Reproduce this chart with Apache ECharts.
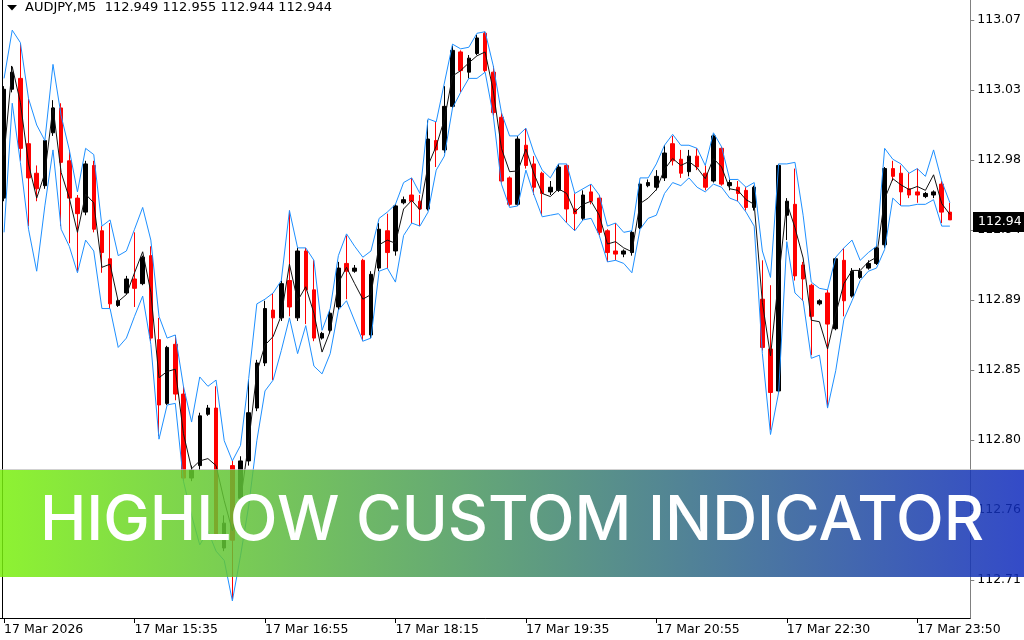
<!DOCTYPE html>
<html>
<head>
<meta charset="utf-8">
<script src="https://cdn.jsdelivr.net/npm/echarts@6/dist/echarts.min.js"></script>
<style>
html,body{margin:0;padding:0;background:#fff;}
#chart{width:1024px;height:640px;}
</style>
</head>
<body>
<div id="chart"></div>
<script>
// ---- data (AUDJPY M5) ----
const symbolTitle = "AUDJPY,M5  112.949 112.955 112.944 112.944";
const currentPrice = 112.944;
const currentPriceLabel = "112.94";

const xTickIdx = [0, 16, 32, 48, 64, 80, 96, 112];
const xTickLabels = ["17 Mar 2026", "17 Mar 15:35", "17 Mar 16:55", "17 Mar 18:15",
  "17 Mar 19:35", "17 Mar 20:55", "17 Mar 22:30", "17 Mar 23:50"];

const yTickValues = [112.7125, 112.7575, 112.8025, 112.8475, 112.8925, 112.9375, 112.9825, 113.0275, 113.0725];
const yTickLabels = ["112.71", "112.76", "112.80", "112.85", "112.89", "112.94", "112.98", "113.03", "113.07"];

const opens = [
112.958,113.028,113.035,112.993,112.974,112.966,113.000,113.016,112.982,112.958,
112.949,112.979,112.937,112.919,112.889,112.897,112.906,112.903,112.921,112.867,
112.826,112.864,112.832,112.778,112.786,112.819,112.823,112.733,112.786,112.765,
112.789,112.823,112.852,112.886,112.881,112.905,112.881,112.924,112.899,112.868,
112.873,112.888,112.916,112.911,112.918,112.870,112.913,112.937,112.924,112.955,
112.960,112.956,112.951,112.995,112.989,113.017,113.052,113.039,113.051,113.064,
113.039,113.010,112.971,112.954,112.992,112.980,112.974,112.962,112.963,112.979,
112.951,112.945,112.962,112.958,112.937,112.924,112.922,112.923,112.939,112.966,
112.965,112.971,112.993,112.983,112.975,112.985,112.974,112.969,112.990,112.966,
112.965,112.963,112.952,112.893,112.861,112.834,112.947,112.954,112.915,112.902,
112.890,112.897,112.874,112.918,112.895,112.907,112.913,112.916,112.928,112.977,
112.974,112.964,112.962,112.959,112.960,112.967,112.949];
const closes = [
113.028,113.039,112.990,112.971,112.964,112.995,113.016,112.981,112.958,112.948,
112.980,112.938,112.923,112.890,112.892,112.906,112.900,112.920,112.868,112.825,
112.862,112.832,112.778,112.783,112.818,112.823,112.742,112.749,112.738,112.789,
112.820,112.852,112.887,112.881,112.903,112.888,112.924,112.899,112.868,112.871,
112.884,112.913,112.911,112.913,112.870,112.909,112.938,112.923,112.953,112.957,
112.956,112.951,112.996,112.989,113.017,113.053,113.040,113.048,113.061,113.040,
113.013,112.969,112.954,112.996,112.979,112.965,112.961,112.965,112.978,112.951,
112.948,112.960,112.956,112.936,112.923,112.922,112.924,112.936,112.967,112.968,
112.972,112.987,112.982,112.974,112.985,112.978,112.965,112.998,112.967,112.968,
112.961,112.952,112.965,112.862,112.833,112.979,112.956,112.908,112.906,112.882,
112.892,112.877,112.919,112.892,112.911,112.911,112.916,112.926,112.977,112.972,
112.962,112.960,112.960,112.961,112.962,112.949,112.944];
const lows = [
112.956,113.026,112.982,112.940,112.956,112.964,112.998,112.940,112.929,112.911,
112.947,112.936,112.910,112.887,112.888,112.896,112.888,112.902,112.866,112.805,
112.825,112.828,112.776,112.776,112.783,112.818,112.738,112.731,112.700,112.757,
112.786,112.821,112.850,112.841,112.879,112.882,112.879,112.877,112.866,112.867,
112.871,112.886,112.893,112.910,112.866,112.868,112.911,112.913,112.921,112.954,
112.942,112.940,112.950,112.978,112.987,113.016,113.026,113.035,113.050,113.039,
113.011,112.968,112.953,112.953,112.977,112.960,112.947,112.960,112.962,112.942,
112.937,112.944,112.954,112.934,112.917,112.918,112.920,112.921,112.938,112.965,
112.963,112.969,112.979,112.971,112.972,112.976,112.963,112.968,112.966,112.963,
112.956,112.950,112.950,112.860,112.809,112.833,112.931,112.905,112.892,112.857,
112.889,112.823,112.873,112.882,112.894,112.906,112.912,112.915,112.926,112.969,
112.953,112.958,112.955,112.958,112.958,112.942,112.944];
const highs = [
113.030,113.043,113.057,113.022,112.979,112.995,113.021,113.019,112.989,112.960,
112.982,112.982,112.940,112.942,112.893,112.908,112.936,112.921,112.927,112.881,
112.863,112.870,112.837,112.786,112.820,112.825,112.837,112.754,112.789,112.792,
112.841,112.854,112.892,112.897,112.905,112.950,112.926,112.926,112.918,112.872,
112.886,112.917,112.934,112.915,112.919,112.911,112.942,112.948,112.954,112.959,
112.971,112.960,113.008,113.007,113.030,113.056,113.053,113.050,113.063,113.065,
113.043,113.013,112.972,112.998,113.003,112.985,112.975,112.969,112.980,112.980,
112.961,112.963,112.967,112.960,112.938,112.942,112.925,112.937,112.969,112.970,
112.976,112.992,112.998,112.989,112.989,112.990,112.979,112.999,112.991,112.970,
112.969,112.965,112.966,112.918,112.902,112.980,112.958,112.977,112.917,112.903,
112.893,112.899,112.920,112.926,112.913,112.913,112.918,112.927,112.978,112.982,
112.979,112.974,112.977,112.962,112.963,112.969,112.955];

const upperBand = [
113.035,113.066,113.058,113.022,113.005,112.995,113.044,113.011,112.989,112.962,
112.990,112.986,112.940,112.944,112.921,112.924,112.938,112.952,112.931,112.882,
112.868,112.870,112.837,112.814,112.843,112.837,112.841,112.802,112.789,112.799,
112.842,112.890,112.893,112.897,112.905,112.950,112.926,112.926,112.918,112.873,
112.887,112.921,112.935,112.927,112.920,112.924,112.945,112.949,112.954,112.968,
112.971,112.961,113.009,113.007,113.032,113.057,113.054,113.055,113.064,113.065,
113.043,113.013,112.998,112.998,113.003,112.987,112.976,112.971,112.980,112.980,
112.961,112.964,112.967,112.960,112.940,112.942,112.936,112.937,112.971,112.971,
112.980,112.992,112.999,112.992,112.992,112.990,112.979,113.000,112.991,112.970,
112.970,112.965,112.968,112.924,112.907,112.980,112.980,112.981,112.947,112.904,
112.900,112.899,112.920,112.926,112.931,112.918,112.923,112.927,112.990,112.983,
112.980,112.974,112.977,112.972,112.989,112.969,112.955];
const lowerBand = [
112.936,113.019,112.981,112.938,112.911,112.953,112.989,112.938,112.927,112.910,
112.931,112.924,112.887,112.887,112.862,112.868,112.882,112.895,112.864,112.803,
112.825,112.826,112.776,112.754,112.735,112.744,112.731,112.725,112.699,112.728,
112.760,112.802,112.834,112.841,112.860,112.881,112.858,112.876,112.850,112.845,
112.858,112.886,112.892,112.879,112.866,112.868,112.911,112.913,112.904,112.934,
112.942,112.940,112.949,112.976,112.985,113.016,113.026,113.035,113.035,113.039,
113.011,112.967,112.952,112.953,112.976,112.960,112.946,112.947,112.948,112.942,
112.937,112.944,112.945,112.934,112.917,112.918,112.916,112.910,112.938,112.945,
112.947,112.961,112.968,112.966,112.971,112.965,112.962,112.967,112.965,112.958,
112.956,112.949,112.940,112.858,112.806,112.833,112.930,112.897,112.892,112.855,
112.857,112.823,112.847,112.880,112.892,112.905,112.911,112.913,112.925,112.958,
112.953,112.953,112.954,112.954,112.957,112.940,112.940];
const midLine = [
112.9855,113.0425,113.0195,112.980,112.958,112.974,113.0165,112.9745,112.958,112.936,
112.9605,112.955,112.9135,112.9155,112.8915,112.896,112.910,112.9235,112.8975,112.8425,
112.8465,112.848,112.8065,112.784,112.789,112.7905,112.786,112.7635,112.744,112.7635,
112.801,112.846,112.8635,112.869,112.8825,112.9155,112.892,112.901,112.884,112.859,
112.8725,112.9035,112.9135,112.903,112.893,112.896,112.928,112.931,112.929,112.951,
112.9565,112.9505,112.979,112.9915,113.0085,113.0365,113.040,113.045,113.0495,113.052,
113.027,112.990,112.975,112.9755,112.9895,112.9735,112.961,112.959,112.964,112.961,
112.949,112.954,112.956,112.947,112.9285,112.930,112.926,112.9235,112.9545,112.958,
112.9635,112.9765,112.9835,112.979,112.9815,112.9775,112.9705,112.9835,112.978,112.964,
112.963,112.957,112.954,112.891,112.8565,112.9065,112.955,112.939,112.9195,112.8795,
112.8785,112.861,112.8835,112.903,112.9115,112.9115,112.917,112.920,112.9575,112.9705,
112.9665,112.9635,112.9655,112.963,112.973,112.9545,112.9475];

const bannerText = "HIGHLOW CUSTOM INDICATOR";

// ---- chart ----
const slotCount = 119; // 117 bars + chart shift
const categories = Array.from({length: slotCount}, (_, i) => String(i));
const candleData = opens.map((o, i) => [o, closes[i], lows[i], highs[i]]);
const isTick = (i) => xTickIdx.indexOf(i) >= 0;
const FONT = 'DejaVu Sans';

const chart = echarts.init(document.getElementById('chart'), null, {renderer: 'canvas'});
chart.setOption({
  animation: false,
  backgroundColor: '#ffffff',
  grid: {left: -1, right: 52, top: 0, bottom: 22, containLabel: false},
  xAxis: {
    type: 'category', data: categories, boundaryGap: true,
    axisLine: {show: true, lineStyle: {color: '#000', width: 1}},
    axisTick: {show: true, alignWithLabel: true, interval: isTick, length: 5, lineStyle: {color: '#000'}},
    axisLabel: {
      interval: isTick, align: 'left', margin: 5, color: '#000',
      fontFamily: FONT, fontSize: 12.5,
      formatter: (v, i) => xTickLabels[xTickIdx.indexOf(i)] || ''
    },
    splitLine: {show: false}
  },
  yAxis: {
    type: 'value', position: 'right', min: 112.688, max: 113.0854,
    axisLine: {show: true, lineStyle: {color: '#808080', width: 1}},
    axisTick: {show: true, length: 4, customValues: yTickValues, lineStyle: {color: '#808080'}},
    axisLabel: {
      customValues: yTickValues, margin: 7, color: '#000', fontFamily: FONT, fontSize: 12.5,
      formatter: (v) => {
        const k = yTickValues.findIndex(t => Math.abs(t - v) < 1e-6);
        return k >= 0 ? yTickLabels[k] : '';
      }
    },
    splitLine: {show: false}
  },
  series: [
    {
      type: 'candlestick', data: candleData, barWidth: 4,
      itemStyle: {color: '#000000', color0: '#ff0000', borderColor: '#000000', borderColor0: '#ff0000', borderWidth: 1},
      z: 2
    },
    {type: 'line', data: upperBand, showSymbol: false, symbol: 'none',
     lineStyle: {color: '#1E90FF', width: 1}, z: 3},
    {type: 'line', data: lowerBand, showSymbol: false, symbol: 'none',
     lineStyle: {color: '#1E90FF', width: 1}, z: 3},
    {type: 'line', data: midLine, showSymbol: false, symbol: 'none',
     lineStyle: {color: '#111111', width: 1}, z: 4}
  ]
});

// current price tag, placed through the axis scale
const priceY = chart.convertToPixel({yAxisIndex: 0}, currentPrice);
const axisX = 1024 - 52;

chart.setOption({
  graphic: [
    {type: 'line', shape: {x1: 2.5, y1: 0, x2: 2.5, y2: 618}, style: {stroke: '#000', lineWidth: 1}, z: 10},
    {type: 'polygon', shape: {points: [[7, 5], [17, 5], [12, 10.5]]}, style: {fill: '#000'}, z: 10},
    {type: 'text', x: 25, y: 1, style: {text: symbolTitle, fill: '#000', fontFamily: FONT, fontSize: 13, align: 'left', verticalAlign: 'top'}, z: 10},
    {type: 'rect', shape: {x: axisX + 1, y: priceY - 8, width: 60, height: 20}, style: {fill: '#000'}, z: 20},
    {type: 'text', x: axisX + 6, y: priceY + 2, style: {text: currentPriceLabel, fill: '#fff', fontFamily: FONT, fontSize: 12.5, align: 'left', verticalAlign: 'middle'}, z: 21},
    {type: 'rect', shape: {x: 0, y: 470, width: 1024, height: 107}, z: 100,
     style: {fill: new echarts.graphic.LinearGradient(0, 0, 1, 0, [
       {offset: 0, color: 'rgba(122,240,14,0.85)'},
       {offset: 0.5, color: 'rgba(69,143,102,0.85)'},
       {offset: 1, color: 'rgba(16,43,190,0.85)'}
     ])}},
    {type: 'line', shape: {x1: 0, y1: 469.5, x2: 1024, y2: 469.5}, style: {stroke: 'rgba(190,190,190,0.7)', lineWidth: 1}, z: 100},
    {type: 'text', x: 512, y: 521, z: 101,
     style: {text: bannerText, fill: '#ffffff', fontFamily: 'Inter', fontWeight: 500, fontSize: 62.3, align: 'center', verticalAlign: 'middle'}}
  ]
});
</script>
</body>
</html>
